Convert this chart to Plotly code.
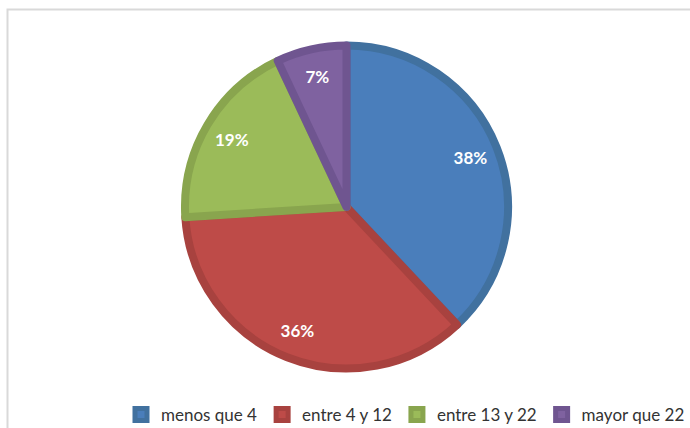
import plotly.graph_objects as go

labels = ["menos que 4", "entre 4 y 12", "entre 13 y 22", "mayor que 22"]
values = [38, 36, 19, 7]
fill_colors = ["#4a7ebb", "#be4b48", "#9bbb59", "#7f62a0"]
line_colors = ["#41719f", "#a8423f", "#89a54e", "#6f5590"]

W, H = 690, 428
cx, cy, r = 346.5, 207, 161.5
dom = dict(x=[(cx - r) / W, (cx + r) / W], y=[(H - cy - r) / H, (H - cy + r) / H])

fig = go.Figure()
fig.add_trace(go.Pie(
    labels=labels, values=values, sort=False, direction="clockwise", rotation=0,
    marker=dict(colors=fill_colors, line=dict(color=line_colors, width=8)),
    textinfo="none", domain=dom, hoverinfo="label+percent",
))
# label ring: same data, transparent, so the percentages sit in the outer part of each slice
fig.add_trace(go.Pie(
    labels=labels, values=values, sort=False, direction="clockwise", rotation=0, hole=0.65,
    marker=dict(colors=["rgba(0,0,0,0)"] * len(values), line=dict(width=0)),
    textinfo="percent", textposition="inside", insidetextorientation="horizontal",
    textfont=dict(family="Lato", size=17, color="white", weight="bold"),
    domain=dom, showlegend=False, hoverinfo="skip",
))

fig.update_layout(
    width=W, height=H, margin=dict(l=0, r=0, t=0, b=0, autoexpand=False),
    paper_bgcolor="white",
    showlegend=True,
    legend=dict(orientation="h", x=1.0, xanchor="right", y=(H - 415) / H, yanchor="middle",
                font=dict(family="Lato", size=17, color="#333333"),
                bgcolor="rgba(0,0,0,0)"),
    shapes=[dict(type="rect", xref="paper", yref="paper", x0=7.5 / W, x1=1.1, y0=-0.1, y1=(H - 9.5) / H,
                 line=dict(color="#d9d9d9", width=2), fillcolor="rgba(0,0,0,0)", layer="below")],
)

fig.write_html("out.html", config={"displayModeBar": False},
               post_script="document.body.style.margin='0px';document.body.style.overflow='hidden';")
